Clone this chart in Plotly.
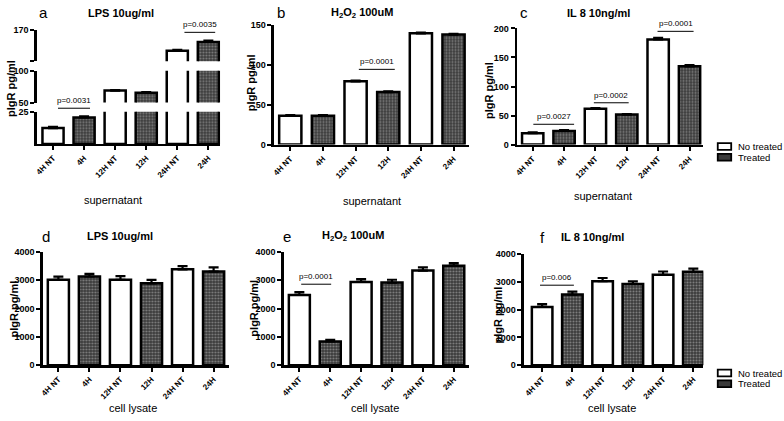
import plotly.graph_objects as go

W, H = 784, 421
FONT = "Liberation Sans"

categories = ["4H NT", "4H", "12H NT", "12H", "24H NT", "24H"]

# panel values (pIgR pg/ml) and upper error (SEM)
a_vals = [12.3, 20.5, 68.8, 65.3, 137, 151]
a_err = [1.0, 0.8, 1.0, 1.0, 1.5, 2.0]
b_vals = [36, 36, 79, 65.6, 139, 137.5]
b_err = [1, 1, 1, 1, 1, 1]
c_vals = [19.7, 23.6, 61.8, 51.7, 180.9, 134.8]
c_err = [1.5, 1.5, 1.0, 1.0, 3.0, 2.0]
d_vals = [3020, 3135, 3020, 2893, 3389, 3308]
d_err = [110, 90, 130, 120, 110, 150]
e_vals = [2483, 839, 2943, 2920, 3345, 3517]
e_err = [100, 60, 100, 100, 115, 90]
f_vals = [2094, 2538, 3018, 2924, 3251, 3357]
f_err = [105, 105, 117, 94, 117, 117]

titles = ["LPS 10ug/ml", "H<sub>2</sub>O<sub>2</sub> 100uM", "IL 8 10ng/ml",
          "LPS 10ug/ml", "H<sub>2</sub>O<sub>2</sub> 100uM", "IL 8 10ng/ml"]
letters = ["a", "b", "c", "d", "e", "f"]
xtitles = ["supernatant"] * 3 + ["cell lysate"] * 3
legend_names = ["No treated", "Treated"]

NT_FILL = "white"
TR_FILL = "#3a3a3a"
TR_DOTS = "#c4c4c4"


def px(x):
    return x / W


def py(y):
    return 1 - y / H


fig = go.Figure()

# panel geometry in pixels: (x0, x1, ybottom, ytop)
panels = {
    "b": (272, 468, 143, 20),
    "c": (516, 703, 143, 24),
    "d": (40, 227, 369, 253),
    "e": (282, 468, 369, 253),
    "f": (523, 703, 369, 255),
}

TICKFONT = dict(family=FONT, size=9, color="black")
XTICKFONT = dict(family=FONT, size=8, color="black")
ticktext = ["<b>%s</b>" % c for c in categories]


def xaxis_def(x0, x1, anchor, rng):
    return dict(domain=[px(x0), px(x1)], anchor=anchor, range=rng,
                type="category", categoryorder="array", categoryarray=categories,
                tickvals=categories, ticktext=ticktext, tickangle=-45,
                showline=True, linecolor="black", linewidth=2.5,
                ticks="outside", ticklen=4, tickwidth=2, tickcolor="black",
                tickfont=XTICKFONT, showgrid=False, zeroline=False, fixedrange=True)


def yaxis_def(y0, y1, anchor, rng, tickvals, ticktexts):
    return dict(domain=[py(y0), py(y1)], anchor=anchor, range=rng,
                tickvals=tickvals, ticktext=["<b>%s</b>" % t if t else " " for t in ticktexts],
                showline=True, linecolor="black", linewidth=2.5,
                ticks="outside", ticklen=4, tickwidth=2, tickcolor="black",
                tickfont=TICKFONT, showgrid=False, zeroline=False, fixedrange=True)


def add_bars(vals, errs, xa, ya):
    nt_x = categories[0::2]
    tr_x = categories[1::2]
    fig.add_trace(go.Bar(
        x=nt_x, y=vals[0::2], xaxis=xa, yaxis=ya, width=0.68,
        name=legend_names[0], showlegend=False,
        marker=dict(color=NT_FILL, line=dict(color="black", width=2.5)),
        error_y=dict(type="data", array=errs[0::2], arrayminus=[0] * 3, symmetric=False,
                     color="black", thickness=2.2, width=5)))
    fig.add_trace(go.Bar(
        x=tr_x, y=vals[1::2], xaxis=xa, yaxis=ya, width=0.68,
        name=legend_names[1], showlegend=False,
        marker=dict(color=TR_FILL, line=dict(color="black", width=2.5),
                    pattern=dict(shape=".", fgcolor=TR_DOTS, size=3, solidity=0.4)),
        error_y=dict(type="data", array=errs[1::2], arrayminus=[0] * 3, symmetric=False,
                     color="black", thickness=2.2, width=5)))


layout = dict(width=W, height=H, margin=dict(l=0, r=0, t=0, b=0),
              plot_bgcolor="white", paper_bgcolor="white", barmode="overlay",
              font=dict(family=FONT, color="black"), showlegend=False)

# ---- panel a : broken y axis (three segments) ----
A_X0, A_X1 = 34, 218
seg_bottom = (142.3, 109.3, [0, 25])
seg_mid = (100, 67.3, [50, 100])
seg_top = (57.7, 25.7, [120, 170])
layout["xaxis"] = xaxis_def(A_X0, A_X1, "y", [-0.52, 5.38])
layout["yaxis"] = yaxis_def(seg_bottom[0], seg_bottom[1], "x", seg_bottom[2], [25], ["25"])
layout["yaxis7"] = yaxis_def(seg_mid[0], seg_mid[1], "x", seg_mid[2], [50, 100], ["50", "100"])
layout["yaxis8"] = yaxis_def(seg_top[0], seg_top[1], "x", seg_top[2], [120, 170], ["", "170"])
for ya in ["y", "y7", "y8"]:
    add_bars(a_vals, a_err, "x", ya)

# ---- other panels ----
cfg = [
    ("b", 2, b_vals, b_err, [0, 150], [0, 50, 100, 150], [-0.5, 5.48]),
    ("c", 3, c_vals, c_err, [0, 200], [0, 50, 100, 150, 200], [-0.5, 5.44]),
    ("d", 4, d_vals, d_err, [0, 4000], [0, 1000, 2000, 3000, 4000], [-0.5, 5.5]),
    ("e", 5, e_vals, e_err, [0, 4000], [0, 1000, 2000, 3000, 4000], [-0.5, 5.5]),
    ("f", 6, f_vals, f_err, [0, 4000], [0, 1000, 2000, 3000, 4000], [-0.6, 5.33]),
]
for key, n, vals, errs, yr, tv, xr in cfg:
    x0, x1, yb, yt = panels[key]
    layout["xaxis%d" % n] = xaxis_def(x0, x1, "y%d" % n, xr)
    layout["yaxis%d" % n] = yaxis_def(yb, yt, "x%d" % n, yr, tv, [str(v) for v in tv])
    add_bars(vals, errs, "x%d" % n, "y%d" % n)

fig.update_layout(**layout)

# ---- significance brackets: (xref, yref, from, to, y, label) ----
brackets = [
    ("x", "y domain", 0.16, 1.19, 27.7 / 25, "p=0.0031"),
    ("x", "y8", 4.23, 5.22, 166.4, "p=0.0035"),
    ("x2", "y2", 2.1, 3.2, 94, "p=0.0001"),
    ("x3", "y3", 0.02, 1.32, 35, "p=0.0027"),
    ("x3", "y3", 1.95, 3.06, 72, "p=0.0002"),
    ("x3", "y3", 3.98, 5.13, 195, "p=0.0001"),
    ("x5", "y5", 0.06, 1.03, 2862, "p=0.0001"),
    ("x6", "y6", -0.07, 1.05, 2877, "p=0.006"),
]
for xr, yr, i0, i1, yv, lab in brackets:
    fig.add_shape(type="line", xref=xr, yref=yr, x0=i0, x1=i1, y0=yv, y1=yv,
                  line=dict(color="black", width=1))
    fig.add_annotation(xref=xr, yref=yr, x=(i0 + i1) / 2, y=yv, text=lab,
                       showarrow=False, xanchor="center", yanchor="bottom", yshift=1,
                       font=dict(family=FONT, size=8, color="black"))

# ---- titles, letters, axis titles ----
title_pos = [(118, 8), (360, 8), (598, 8), (117, 237), (351, 237), (592, 238)]
letter_pos = [(41, 8), (279, 8), (523, 8), (43, 237), (285, 237), (542, 238)]
xtitle_pos = [(110, 200), (370, 201), (602, 196), (130, 413), (373, 413), (611, 413)]
ytitle_pos = [(8, 85), (249, 80), (488, 88), (11, 311), (252, 311), (497, 318)]


def note(x, y, text, size, angle=0, xanchor="center"):
    fig.add_annotation(xref="paper", yref="paper", x=px(x), y=py(y), text=text,
                       showarrow=False, xanchor=xanchor, yanchor="middle", textangle=angle,
                       font=dict(family=FONT, size=size, color="black"))


for k in range(6):
    note(title_pos[k][0], title_pos[k][1], "<b>%s</b>" % titles[k], 11)
    note(letter_pos[k][0], letter_pos[k][1], letters[k], 15)
    note(xtitle_pos[k][0], xtitle_pos[k][1], xtitles[k], 11)
    note(ytitle_pos[k][0], ytitle_pos[k][1], "<b>pIgR pg/ml</b>", 11, -90)

# ---- legends (one per row): box + label ----
legend_rows = [(145, 156), (377, 388)]
for rows in legend_rows:
    for name, yc, fill in zip(legend_names, rows, [NT_FILL, TR_FILL]):
        fig.add_shape(type="rect", xref="paper", yref="paper",
                      x0=px(717.5), x1=px(731), y0=py(yc + 3.5), y1=py(yc - 3.5),
                      fillcolor=fill, line=dict(color="black", width=1.8))
        note(736, yc, name, 9.5, xanchor="left")

fig.write_html("out.html",
               config={"displayModeBar": False, "staticPlot": True},
               post_script="document.body.style.margin='0';document.body.style.overflow='hidden';")
